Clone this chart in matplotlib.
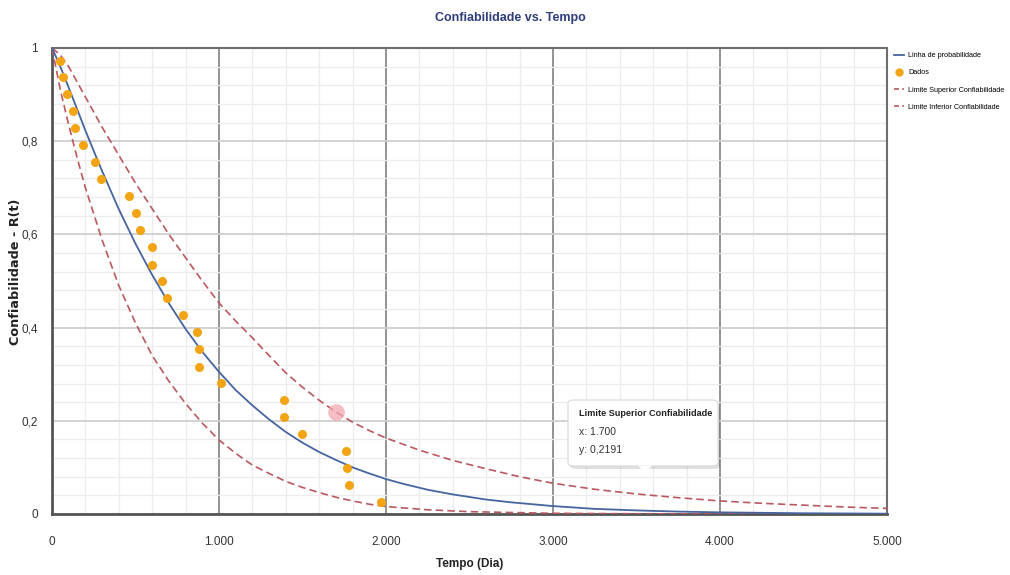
import matplotlib
matplotlib.use("Agg")
import matplotlib.pyplot as plt
from matplotlib.patches import FancyBboxPatch, Polygon
from matplotlib.lines import Line2D
from matplotlib.ticker import FixedLocator, MultipleLocator

plt.rcParams['font.family'] = ['Liberation Sans', 'DejaVu Sans']

# ---------------- data ----------------
title = "Confiabilidade vs. Tempo"
x_label = "Tempo (Dia)"
y_label = "Confiabilidade - R(t)"
x_ticks = [0, 1000, 2000, 3000, 4000, 5000]
x_tick_labels = ["0", "1.000", "2.000", "3.000", "4.000", "5.000"]
y_ticks = [0, 0.2, 0.4, 0.6, 0.8, 1.0]
y_tick_labels = ["0", "0,2", "0,4", "0,6", "0,8", "1"]

# probability line
line_t = [0, 50, 100, 150, 200, 250, 300, 400, 500, 600, 700, 800, 900, 1000,
          1100, 1200, 1300, 1400, 1500, 1600, 1700, 1800, 1900, 2000, 2100, 2250,
          2400, 2600, 2750, 3000, 3250, 3500, 3750, 4000, 4500, 5000]
line_r = [1.0, 0.960, 0.915, 0.869, 0.823, 0.779, 0.736, 0.654, 0.580, 0.513,
          0.452, 0.397, 0.348, 0.305, 0.266, 0.233, 0.203, 0.176, 0.153, 0.133,
          0.116, 0.100, 0.087, 0.075, 0.065, 0.052, 0.042, 0.031, 0.025, 0.017,
          0.011, 0.0077, 0.0052, 0.0035, 0.0016, 0.0007]

# upper confidence limit
upper_t = [0, 50, 100, 200, 300, 400, 500, 600, 700, 800, 900, 1000, 1100, 1200,
           1300, 1400, 1500, 1600, 1700, 1800, 1900, 2000, 2200, 2400, 2600, 2800,
           3000, 3250, 3500, 3750, 4000, 4250, 4500, 4750, 5000]
upper_r = [1.0, 0.985, 0.960, 0.895, 0.830, 0.770, 0.710, 0.655, 0.600, 0.550,
           0.500, 0.453, 0.414, 0.378, 0.340, 0.303, 0.272, 0.244, 0.2191, 0.197,
           0.179, 0.163, 0.137, 0.115, 0.097, 0.080, 0.066, 0.053, 0.043, 0.035,
           0.028, 0.023, 0.019, 0.015, 0.012]

# lower confidence limit
lower_t = [0, 25, 50, 100, 150, 200, 300, 400, 500, 600, 700, 800, 900, 1000,
           1100, 1200, 1300, 1400, 1500, 1600, 1700, 1800, 1900, 2000, 2250, 2500,
           3000, 3500, 4000, 5000]
lower_r = [1.0, 0.955, 0.910, 0.835, 0.765, 0.700, 0.588, 0.490, 0.410, 0.340,
           0.285, 0.237, 0.195, 0.159, 0.130, 0.105, 0.087, 0.070, 0.057, 0.046,
           0.036, 0.028, 0.021, 0.016, 0.009, 0.005, 0.0015, 0.0005, 0.0002, 0.0]

# data points
data_t = [48, 66, 90, 126, 138, 186, 257, 293, 461, 503, 527, 599, 599, 659, 689,
          784, 868, 880, 880, 1012, 1389, 1389, 1497, 1760, 1766, 1778, 1970]
data_r = [0.972, 0.937, 0.901, 0.865, 0.828, 0.791, 0.755, 0.718, 0.682, 0.645,
          0.609, 0.572, 0.535, 0.499, 0.464, 0.426, 0.391, 0.355, 0.316, 0.282,
          0.245, 0.209, 0.172, 0.136, 0.099, 0.062, 0.026]

hover_x = 1700
hover_y = 0.2191
hover_series = "Limite Superior Confiabilidade"
hover_x_text = "x: 1.700"
hover_y_text = "y: 0,2191"

legend_labels = ["Linha de probabilidade", "Dados",
                 "Limite Superior Confiabilidade", "Limite Inferior Confiabilidade"]

# ---------------- figure ----------------
W, H = 1010, 575
fig = plt.figure(figsize=(W / 100, H / 100), dpi=100)
ax = fig.add_axes([52 / W, 1 - 514 / H, (887 - 52) / W, (514 - 48) / H])

blue = '#46649f'
red = '#b9585f'
orange = '#f3a412'

ax.set_xlim(0, 5000)
ax.set_ylim(0, 1.0)

# grid
ax.xaxis.set_major_locator(FixedLocator(x_ticks))
ax.xaxis.set_minor_locator(MultipleLocator(200))
ax.yaxis.set_major_locator(FixedLocator(y_ticks))
ax.yaxis.set_minor_locator(MultipleLocator(0.04))
ax.grid(which='minor', color='#ececec', lw=0.9)
ax.grid(which='major', axis='y', color='#cfcfcf', lw=1.3)
ax.grid(which='major', axis='x', color='#8a8a8a', lw=1.3)
ax.set_axisbelow(True)

ax.set_xticklabels(x_tick_labels)
ax.set_yticklabels(y_tick_labels)
ax.tick_params(which='both', length=0)
ax.tick_params(axis='x', pad=16, labelsize=8.5, labelcolor='#333333')
ax.tick_params(axis='y', pad=10, labelsize=8.5, labelcolor='#333333')

for side in ['left', 'bottom']:
    ax.spines[side].set_color('#555555')
    ax.spines[side].set_linewidth(2.0)
for side in ['top', 'right']:
    ax.spines[side].set_color('#6e6e6e')
    ax.spines[side].set_linewidth(1.5)

dash = (0, (4.5, 2.5))
ax.plot(upper_t, upper_r, color=red, lw=1.2, ls=dash, zorder=3)
ax.plot(lower_t, lower_r, color=red, lw=1.2, ls=dash, zorder=3)
ax.plot(line_t, line_r, color=blue, lw=1.3, zorder=4)
ax.plot(data_t, data_r, 'o', color=orange, ms=6.5, mec='none', zorder=5)

# hover highlight
ax.plot([hover_x], [hover_y], 'o', color='#f2a7b1', alpha=0.75, ms=12,
        mec='none', zorder=6)

# titles
fig.text(510 / W, 1 - 18 / H, title, ha='center', va='center', fontsize=9,
         fontweight='bold', color='#2f3d7a')
fig.text(470 / W, 1 - 564 / H, x_label, ha='center', va='center', fontsize=8.5,
         color='#222222', fontweight='bold')
fig.text(16 / W, 1 - 272 / H, y_label, ha='center', va='center', fontsize=9.2,
         rotation=90, fontweight='bold', color='#222222', family='DejaVu Sans')

# legend
handles = [
    Line2D([], [], color=blue, lw=1.3),
    Line2D([], [], marker='o', ls='none', color=orange, ms=6, mec='none'),
    Line2D([], [], color=red, lw=1.2, ls=(0, (3, 2))),
    Line2D([], [], color=red, lw=1.2, ls=(0, (3, 2))),
]
fig.legend(handles, legend_labels, loc='upper left',
           bbox_to_anchor=(894 / W, 1 - 52 / H), frameon=False, fontsize=5.2,
           handlelength=1.4, handletextpad=0.6, labelspacing=1.42,
           borderaxespad=0, borderpad=0)

# tooltip
def fx(px):
    return px / W

def fy(py):
    return 1 - py / H

bx0, by0, bx1, by1 = 568, 400, 718, 466
shadow = FancyBboxPatch((fx(bx0 + 2), fy(by1 + 3)), fx(bx1 - bx0), (by1 - by0) / H,
                        boxstyle="round,pad=0,rounding_size=0.006",
                        transform=fig.transFigure, fc='#000000', alpha=0.12,
                        ec='none', zorder=9)
fig.patches.append(shadow)
box = FancyBboxPatch((fx(bx0), fy(by1)), fx(bx1 - bx0), (by1 - by0) / H,
                     boxstyle="round,pad=0,rounding_size=0.006",
                     transform=fig.transFigure, fc='white', ec='#d8d8d8',
                     lw=0.8, zorder=10)
fig.patches.append(box)
tri = Polygon([(fx(638), fy(by1 - 0.5)), (fx(652), fy(by1 - 0.5)), (fx(645), fy(473))],
              closed=True, transform=fig.transFigure, fc='white', ec='none',
              zorder=11)
fig.patches.append(tri)
fig.text(fx(579), fy(414), hover_series, ha='left', va='center', fontsize=6.6,
         fontweight='bold', color='#222222', zorder=12)
fig.text(fx(579), fy(432), hover_x_text, ha='left', va='center', fontsize=7.5,
         color='#333333', zorder=12)
fig.text(fx(579), fy(450), hover_y_text, ha='left', va='center', fontsize=7.5,
         color='#333333', zorder=12)

fig.savefig("out.png", dpi=100)
